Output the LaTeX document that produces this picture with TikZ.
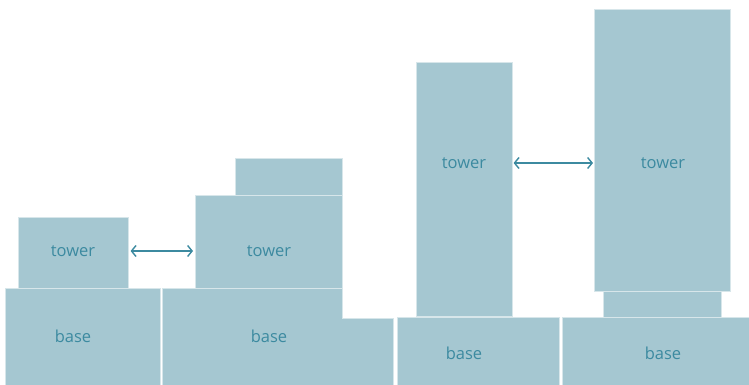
\documentclass[tikz,border=0pt]{standalone}
\usepackage{fontspec}
\setmainfont{Open Sans}
\usetikzlibrary{arrows.meta, positioning}
\definecolor{blockfill}{HTML}{A5C7D1}
\definecolor{labeltext}{HTML}{3C8AA0}
\begin{document}
\begin{tikzpicture}[x=1pt, y=-1pt]
            % Block styles
            \tikzstyle{block} = [rectangle, fill=blockfill, draw=white!55!blockfill, line width=0.6pt, inner sep=0pt, anchor=north west]
            \tikzstyle{lbl} = [text=labeltext, font=\fontsize{16.5}{19}\selectfont, inner sep=0pt]
            \tikzstyle{gap} = [<->, draw=labeltext, line width=1.4pt, >={Straight Barb[length=4.5pt, width=11pt]}]
            \useasboundingbox (0,0) rectangle (749,385);
            % Bases
            \node[block, minimum width=155, minimum height=97] (base1) at (5,288) {};
            \fill[blockfill] (162,288) -- (342,288) -- (342,318) -- (393,318) -- (393,385) -- (162,385) -- cycle;
            \draw[white!55!blockfill, line width=0.6pt] (162,288) -- (342,288) -- (342,318) -- (393,318) -- (393,385) -- (162,385) -- cycle;
            \coordinate (base2) at (162,288);
            \node[block, minimum width=162, minimum height=69] (base3) at (397,317) {};
            \node[block, minimum width=188, minimum height=69] (base4) at (562,317) {};
            % Towers
            \node[block, minimum width=110, minimum height=71] (tower1) at (18,217) {};
            \node[block, minimum width=147, minimum height=93] (tower2) at (195,195) {};
            \node[block, minimum width=107, minimum height=37] (top2) at (235,158) {};
            \node[block, minimum width=96, minimum height=254] (tower3) at (416,62) {};
            \node[block, minimum width=118, minimum height=26] (neck4) at (603,291) {};
            \node[block, minimum width=136, minimum height=282] (tower4) at (594,9) {};
            % Labels
            \node[lbl] (tower1txt) at (73,251) {tower};
            \node[lbl] (tower2txt) at (269,251) {tower};
            \node[lbl] (tower3txt) at (464,163) {tower};
            \node[lbl] (tower4txt) at (663,163) {tower};
            \node[lbl] (base1txt) at (73,336) {base};
            \node[lbl] (base2txt) at (269,336) {base};
            \node[lbl] (base3txt) at (464,353) {base};
            \node[lbl] (base4txt) at (663,353) {base};
            % Connections
            \draw[gap, shorten <=2pt, shorten >=2pt] (tower1.east |- tower1txt) -- (tower2.west |- tower1txt);
            \draw[gap, shorten <=1pt, shorten >=1pt] (tower3.east |- tower3txt) -- (tower4.west |- tower3txt);
        \end{tikzpicture}
\end{document}
